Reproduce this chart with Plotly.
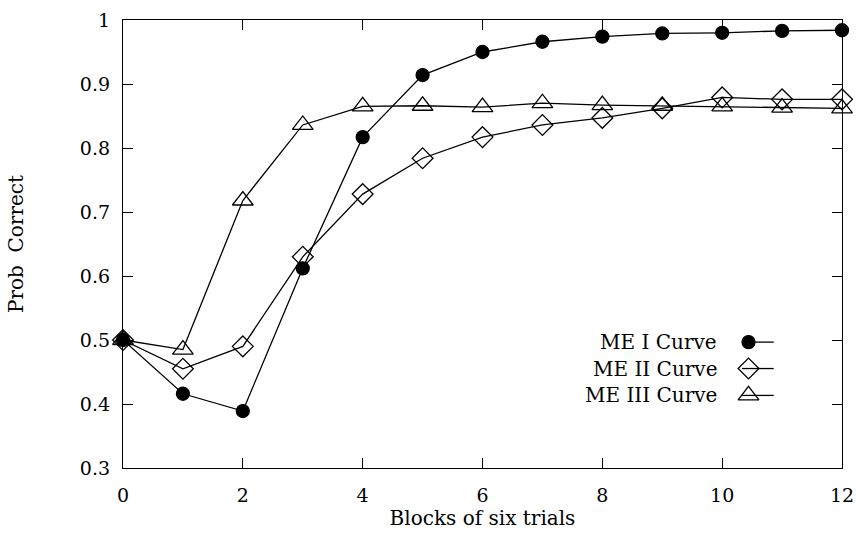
import plotly.graph_objects as go

# Learning curves: probability correct over blocks of six trials
blocks = list(range(13))
me1 = [0.500, 0.416, 0.389, 0.612, 0.817, 0.914, 0.950, 0.966, 0.974, 0.979, 0.980, 0.983, 0.984]
me2 = [0.500, 0.455, 0.490, 0.630, 0.728, 0.784, 0.817, 0.836, 0.847, 0.862, 0.879, 0.876, 0.876]
me3 = [0.500, 0.485, 0.718, 0.836, 0.865, 0.866, 0.864, 0.870, 0.867, 0.866, 0.865, 0.863, 0.862]

series_names = ["ME I Curve", "ME II Curve", "ME III Curve"]
series_values = [me1, me2, me3]
symbols = ["circle", "diamond-open", "triangle-up-open"]
sizes = [13, 16, 18]

FONT = "DejaVu Serif"
INK = "black"

fig = go.Figure()
for name, vals, sym, sz in zip(series_names, series_values, symbols, sizes):
    fig.add_trace(go.Scatter(
        x=blocks, y=vals, mode="lines+markers", name=name,
        line=dict(color=INK, width=1.3),
        marker=dict(symbol=sym, size=sz, color=INK, line=dict(color=INK, width=1.3)),
        showlegend=False, cliponaxis=False,
    ))

# Hand-built key: text right-aligned, symbol sample to its right
key_y = [0.281, 0.222, 0.162]
for name, sym, sz, ky in zip(series_names, symbols, sizes, key_y):
    fig.add_trace(go.Scatter(
        x=[0.861, 0.905], y=[ky, ky], mode="lines", xaxis="x2", yaxis="y2",
        line=dict(color=INK, width=1.3), showlegend=False, hoverinfo="skip",
    ))
    fig.add_trace(go.Scatter(
        x=[0.870], y=[ky], mode="markers", xaxis="x2", yaxis="y2",
        marker=dict(symbol=sym, size=sz, color=INK, line=dict(color=INK, width=1.3)),
        showlegend=False, hoverinfo="skip",
    ))
    fig.add_annotation(
        x=0.829, y=ky, xref="paper", yref="paper", text=name, showarrow=False,
        xanchor="right", yanchor="middle", font=dict(family=FONT, size=20, color=INK),
    )

axis_common = dict(
    showline=True, linecolor=INK, linewidth=1.3, mirror="ticks",
    ticks="inside", ticklen=10, tickwidth=1.3, tickcolor=INK,
    showgrid=False, zeroline=False, automargin=False,
    tickfont=dict(family=FONT, size=19, color=INK),
)

fig.update_layout(
    width=856, height=533,
    margin=dict(l=123, r=14, t=20, b=65),
    paper_bgcolor="white", plot_bgcolor="white",
    xaxis=dict(range=[0, 12], tickvals=[0, 2, 4, 6, 8, 10, 12],
               ticklabelstandoff=10,
               title=dict(text="Blocks of six trials", standoff=4,
                          font=dict(family=FONT, size=20, color=INK)),
               **axis_common),
    yaxis=dict(range=[0.3, 1.0], tickvals=[0.3, 0.4, 0.5, 0.6, 0.7, 0.8, 0.9, 1.0],
               ticktext=["0.3", "0.4", "0.5", "0.6", "0.7", "0.8", "0.9", "1"],
               ticklabelstandoff=8,
               title=dict(text="Prob  Correct", standoff=50,
                          font=dict(family=FONT, size=20, color=INK)),
               **axis_common),
    xaxis2=dict(range=[0, 1], overlaying="x", visible=False, fixedrange=True),
    yaxis2=dict(range=[0, 1], overlaying="y", visible=False, fixedrange=True),
)

fig.write_html("out.html")
